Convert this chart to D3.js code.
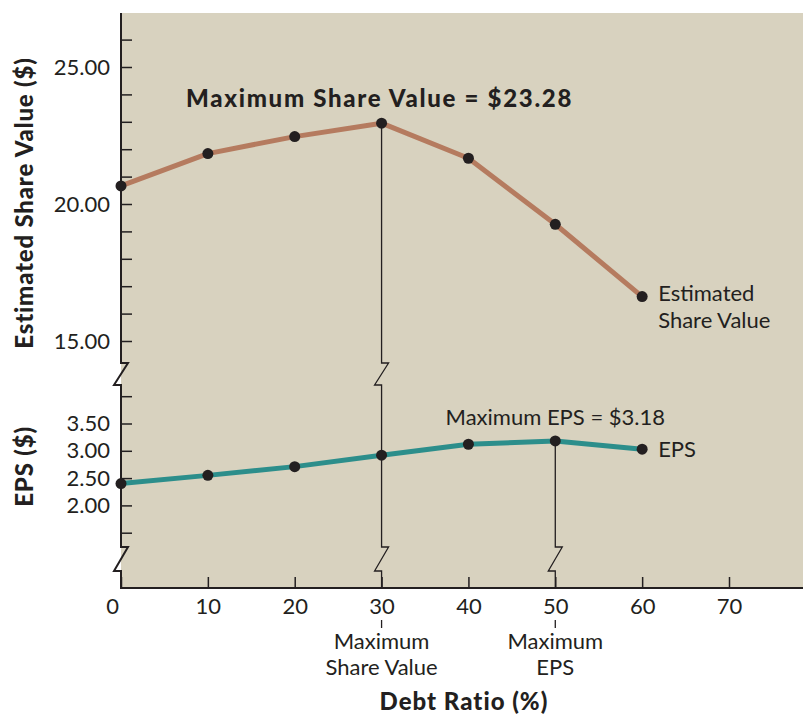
<!DOCTYPE html>
<html>
<head>
<meta charset="utf-8">
<script src="https://cdn.jsdelivr.net/npm/d3@7"></script>
<style>
  html, body { margin: 0; padding: 0; background: #ffffff; }
  svg { display: block; }
  text { font-family: Lato, "Open Sans", sans-serif; fill: #231f20; }
</style>
</head>
<body>
<svg id="chart" width="803" height="714"></svg>
<script>
// ---- data ----
const debtRatio = [0, 10, 20, 30, 40, 50, 60];
const shareValue = [20.66, 21.84, 22.46, 22.95, 21.67, 19.26, 16.62];
const epsValue = [2.40, 2.55, 2.71, 2.92, 3.12, 3.18, 3.03];
const xTickValues = [0, 10, 20, 30, 40, 50, 60, 70];
const shareTickValues = [15, 16, 17, 18, 19, 20, 21, 22, 23, 24, 25, 26];
const shareLabelled = [15, 20, 25];
const epsTickValues = [1.5, 2.0, 2.5, 3.0, 3.5, 4.0];
const epsLabelled = [2.0, 2.5, 3.0, 3.5];
const maxShareLabel = "Maximum Share Value = $23.28";
const maxEpsLabel = "Maximum EPS = $3.18";
const maxShareIndex = 3;
const maxEpsIndex = 5;

// ---- layout ----
const W = 803, H = 714;
const plotLeft = 121, plotRight = 803, plotTop = 13, plotBottom = 588;
const breakUpper = [363, 385];
const breakLower = [547, 571];
const zig = 7;

const colBg = "#d8d2bf";
const colShare = "#b57b5f";
const colEps = "#2c8e8b";
const colInk = "#231f20";

const svg = d3.select("#chart");

const x = d3.scaleLinear().domain([0, 70]).range([plotLeft, 729]);
const yS = d3.scaleLinear().domain([15, 27]).range([341, 12.2]);
const yE = d3.scaleLinear().domain([1.5, 4.0]).range([532.7, 396.2]);

// background
svg.append("rect")
  .attr("x", plotLeft).attr("y", plotTop)
  .attr("width", plotRight - plotLeft).attr("height", plotBottom - plotTop)
  .attr("fill", colBg);

// broken vertical path builder
function brokenPath(xp, yStart, breaks) {
  let p = d3.path();
  p.moveTo(xp, yStart);
  breaks.forEach(b => {
    if (b[0] < yStart) return;
    p.lineTo(xp, b[0]);
    p.lineTo(xp + zig, b[0]);
    p.lineTo(xp - zig, b[1]);
    p.lineTo(xp, b[1]);
  });
  p.lineTo(xp, plotBottom);
  return p.toString();
}

// y axes (ticks + labels)
const axS = d3.axisLeft(yS).tickValues(shareTickValues)
  .tickSizeInner(-11).tickSizeOuter(0).tickPadding(11)
  .tickFormat(d => shareLabelled.includes(d) ? d.toFixed(2) : "");
const gS = svg.append("g").attr("transform", `translate(${plotLeft},0)`).call(axS);

const axE = d3.axisLeft(yE).tickValues(epsTickValues)
  .tickSizeInner(-11).tickSizeOuter(0).tickPadding(11)
  .tickFormat(d => epsLabelled.includes(d) ? d.toFixed(2) : "");
const gE = svg.append("g").attr("transform", `translate(${plotLeft},0)`).call(axE);

const axX = d3.axisBottom(x).tickValues(xTickValues)
  .tickSizeInner(-11).tickSizeOuter(0).tickPadding(10)
  .tickFormat(d3.format("d"));
const gX = svg.append("g").attr("transform", `translate(0,${plotBottom})`).call(axX);
gX.selectAll(".tick text").filter(d => d === 0).attr("dx", -9);

[gS, gE, gX].forEach(g => {
  g.select(".domain").remove();
  g.selectAll(".tick line").attr("stroke", colInk).attr("stroke-width", 1.5);
  g.selectAll(".tick text").attr("font-size", 22).attr("font-family", "Lato, sans-serif").attr("fill", colInk);
});

// left axis line with breaks
svg.append("path")
  .attr("d", brokenPath(plotLeft, plotTop, [breakUpper, breakLower]))
  .attr("fill", "none").attr("stroke", colInk).attr("stroke-width", 2);

// bottom axis line
svg.append("line")
  .attr("x1", plotLeft - 1).attr("x2", plotRight)
  .attr("y1", plotBottom).attr("y2", plotBottom)
  .attr("stroke", colInk).attr("stroke-width", 2);

// drop lines
svg.append("path")
  .attr("d", brokenPath(x(debtRatio[maxShareIndex]), yS(shareValue[maxShareIndex]), [breakUpper, breakLower]))
  .attr("fill", "none").attr("stroke", colInk).attr("stroke-width", 1.3);
svg.append("path")
  .attr("d", brokenPath(x(debtRatio[maxEpsIndex]), yE(epsValue[maxEpsIndex]), [breakUpper, breakLower]))
  .attr("fill", "none").attr("stroke", colInk).attr("stroke-width", 1.3);

// lines
const lineS = d3.line().x((d, i) => x(debtRatio[i])).y(d => yS(d));
const lineE = d3.line().x((d, i) => x(debtRatio[i])).y(d => yE(d));
svg.append("path").attr("d", lineS(shareValue))
  .attr("fill", "none").attr("stroke", colShare).attr("stroke-width", 5).attr("stroke-linejoin", "round");
svg.append("path").attr("d", lineE(epsValue))
  .attr("fill", "none").attr("stroke", colEps).attr("stroke-width", 5).attr("stroke-linejoin", "round");

// dots
svg.append("g").selectAll("circle").data(shareValue).join("circle")
  .attr("cx", (d, i) => x(debtRatio[i])).attr("cy", d => yS(d)).attr("r", 5.5).attr("fill", colInk);
svg.append("g").selectAll("circle").data(epsValue).join("circle")
  .attr("cx", (d, i) => x(debtRatio[i])).attr("cy", d => yE(d)).attr("r", 5.5).attr("fill", colInk);

// annotations
svg.append("text")
  .attr("x", x(debtRatio[maxShareIndex]) - 2).attr("y", yS(shareValue[maxShareIndex]) - 16)
  .attr("text-anchor", "middle").attr("font-size", 24).attr("font-weight", 900)
  .attr("letter-spacing", 1.7)
  .text(maxShareLabel);
svg.append("text")
  .attr("x", x(debtRatio[maxEpsIndex])).attr("y", yE(epsValue[maxEpsIndex]) - 16)
  .attr("text-anchor", "middle").attr("font-size", 22)
  .text(maxEpsLabel);

const last = debtRatio.length - 1;
const tS = svg.append("text").attr("x", x(debtRatio[last]) + 16).attr("y", yS(shareValue[last]) + 4)
  .attr("font-size", 22);
tS.append("tspan").attr("x", x(debtRatio[last]) + 16).attr("dy", 0).text("Estimated");
tS.append("tspan").attr("x", x(debtRatio[last]) + 16).attr("dy", 27).text("Share Value");
svg.append("text").attr("x", x(debtRatio[last]) + 16).attr("y", yE(epsValue[last]) + 8)
  .attr("font-size", 22).text("EPS");

// below-axis markers
[[maxShareIndex, ["Maximum", "Share Value"]], [maxEpsIndex, ["Maximum", "EPS"]]].forEach(([idx, lines]) => {
  const xp = x(debtRatio[idx]);
  svg.append("line").attr("x1", xp).attr("x2", xp).attr("y1", 620).attr("y2", 628)
    .attr("stroke", colInk).attr("stroke-width", 1.3);
  lines.forEach((t, k) => {
    svg.append("text").attr("x", xp).attr("y", 649 + k * 26)
      .attr("text-anchor", "middle").attr("font-size", 22).text(t);
  });
});

// axis titles
svg.append("text").attr("x", 464).attr("y", 710)
  .attr("text-anchor", "middle").attr("font-size", 24).attr("font-weight", 900)
  .attr("letter-spacing", 1)
  .text("Debt Ratio (%)");
svg.append("text").attr("transform", `translate(33,203) rotate(-90)`)
  .attr("text-anchor", "middle").attr("font-size", 24).attr("font-weight", 900)
  .attr("letter-spacing", 0.8)
  .text("Estimated Share Value ($)");
svg.append("text").attr("transform", `translate(33,${yE(2.75) + 2}) rotate(-90)`)
  .attr("text-anchor", "middle").attr("font-size", 24).attr("font-weight", 900)
  .attr("letter-spacing", 0.8)
  .text("EPS ($)");
</script>
</body>
</html>
